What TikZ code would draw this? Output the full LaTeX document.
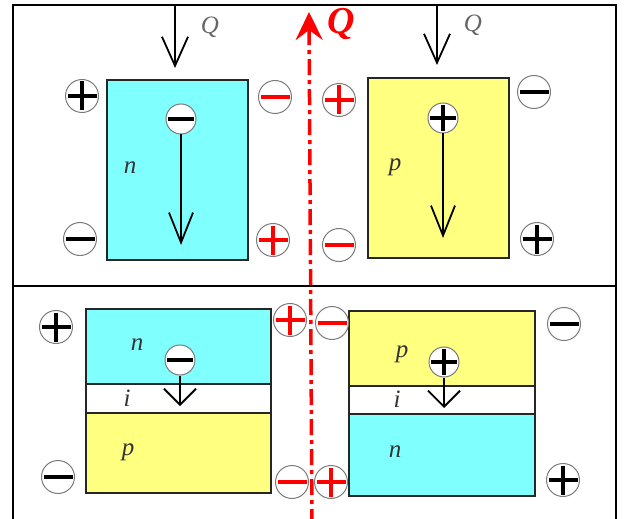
\documentclass[tikz,border=0pt]{standalone}
\usepackage{fontspec}
\setmainfont{Liberation Serif}
\usetikzlibrary{arrows.meta}
\definecolor{ncol}{HTML}{80FFFF}
\definecolor{pcol}{HTML}{FFFF80}
\definecolor{qred}{HTML}{FF0000}
\definecolor{lbl}{HTML}{333333}
\definecolor{qgrey}{HTML}{666666}
\definecolor{ring}{HTML}{7A7A7A}
\begin{document}
\begin{tikzpicture}[x=1pt,y=-1pt,
  chg/.style={circle, draw=ring, line width=1pt, fill=white, minimum size=33pt, inner sep=0pt},
  smallchg/.style={minimum size=30pt},
  pchg/.style={chg, path picture={\draw[line width=4.3pt, #1]
      ([xshift=2pt]path picture bounding box.west) -- ([xshift=-2pt]path picture bounding box.east)
      ([yshift=-2pt]path picture bounding box.north) -- ([yshift=2pt]path picture bounding box.south);}},
  pchg/.default=black,
  mchg/.style={chg, path picture={\draw[line width=4.3pt, #1]
      ([xshift=2pt]path picture bounding box.west) -- ([xshift=-2pt]path picture bounding box.east);}},
  mchg/.default=black,
  box/.style={draw=black!85, line width=2pt, inner sep=0pt},
  lab/.style={text=lbl, font=\fontsize{25}{25}\selectfont\itshape, inner sep=0pt},
  qlab/.style={text=qgrey, font=\fontsize{25}{25}\selectfont\itshape, inner sep=0pt},
  qarrow/.style={line width=1.6pt, -{Straight Barb[length=29pt,width=26pt,line width=1.8pt]}},
  carrow/.style={line width=1.6pt, -{Straight Barb[length=30pt,width=24pt,line width=1.8pt]}},
  sarrow/.style={line width=1.6pt, -{Straight Barb[length=16pt,width=32pt,line width=1.8pt]}},
  frame/.style={line width=2.4pt, black}
]
\useasboundingbox (0,0) rectangle (625,519);
% frame
\draw[frame] (13,530) -- (13,5) -- (616,5) -- (616,530);
\draw[frame] (13,286) -- (616,286);

% ---------- top left (n) ----------
\node[box, fill=ncol, minimum width=141pt, minimum height=180pt] (nbox) at (177.5,170) {};
\node[lab] (nlab) at (130,168) {n};
\coordinate (q1s) at (175,6);
\coordinate (q1e) at (175,68);
\draw[qarrow] (q1s) -- (q1e);
\node[qlab] (q1) at (210,27) {Q};
\node[pchg] (a1) at (82,96) {};
\node[mchg=qred] (a2) at (275,97) {};
\node[mchg] (a3) at (80,239) {};
\node[pchg=qred] (a4) at (273,240) {};
\node[mchg, smallchg] (ae) at (181,119) {};
\coordinate (aee) at (181,245);
\draw[carrow] (ae.south) -- (aee);

% ---------- top right (p) ----------
\node[box, fill=pcol, minimum width=141pt, minimum height=180pt] (pbox) at (438.5,168) {};
\node[lab] (plab) at (395,167) {p};
\coordinate (q2s) at (437,6);
\coordinate (q2e) at (437,65);
\draw[qarrow] (q2s) -- (q2e);
\node[qlab] (q2) at (473,25) {Q};
\node[pchg=qred] (b1) at (339,100) {};
\node[mchg] (b2) at (534,92) {};
\node[mchg=qred] (b3) at (339,245) {};
\node[pchg] (b4) at (537,239) {};
\node[pchg, smallchg] (bh) at (443,118) {};
\coordinate (bhe) at (443,238);
\draw[carrow] (bh.south) -- (bhe);

% ---------- bottom left (n-i-p) ----------
\node[box, fill=ncol, minimum width=185pt, minimum height=75pt] (cn) at (178.5,346.5) {};
\node[box, fill=white, minimum width=185pt, minimum height=29pt] (ci) at (178.5,398.5) {};
\node[box, fill=pcol, minimum width=185pt, minimum height=80pt] (cp) at (178.5,453) {};
\node[lab] (cnl) at (137,345) {n};
\node[lab] (cil) at (127,398) {i};
\node[lab] (cpl) at (128,452) {p};
\node[pchg] (c1) at (56,327) {};
\node[mchg] (c2) at (58,477) {};
\node[pchg=qred] (c3) at (290,320) {};
\node[mchg=qred] (c4) at (292,482) {};
\node[mchg, smallchg] (ce) at (180,360) {};
\coordinate (cee) at (180,406);
\draw[sarrow] (ce.south) -- (cee);

% ---------- bottom right (p-i-n) ----------
\node[box, fill=pcol, minimum width=186pt, minimum height=75pt] (dp) at (442,348.5) {};
\node[box, fill=white, minimum width=186pt, minimum height=28pt] (di) at (442,400) {};
\node[box, fill=ncol, minimum width=186pt, minimum height=82pt] (dn) at (442,455) {};
\node[lab] (dpl) at (402,354) {p};
\node[lab] (dil) at (397,399) {i};
\node[lab] (dnl) at (395,452) {n};
\node[mchg=qred] (d1) at (332,323) {};
\node[mchg] (d2) at (564,324) {};
\node[pchg=qred] (d3) at (331,482) {};
\node[pchg] (d4) at (563,480) {};
\node[pchg, smallchg] (dh) at (444,362) {};
\coordinate (dhe) at (444,408);
\draw[sarrow] (dh.south) -- (dhe);

% ---------- red heat-flow axis ----------
\coordinate (rb) at (312,525);
\coordinate (rt) at (309,12);
\draw[qred, line width=3.5pt, dash pattern=on 16pt off 5pt on 4pt off 5pt,
      -{Stealth[length=28pt,width=27pt,inset=10pt]}] (rb) -- (rt);
\node[text=qred, font=\fontsize{38}{38}\selectfont\bfseries\itshape, inner sep=0pt] (rq) at (341,24) {Q};
\end{tikzpicture}
\end{document}
